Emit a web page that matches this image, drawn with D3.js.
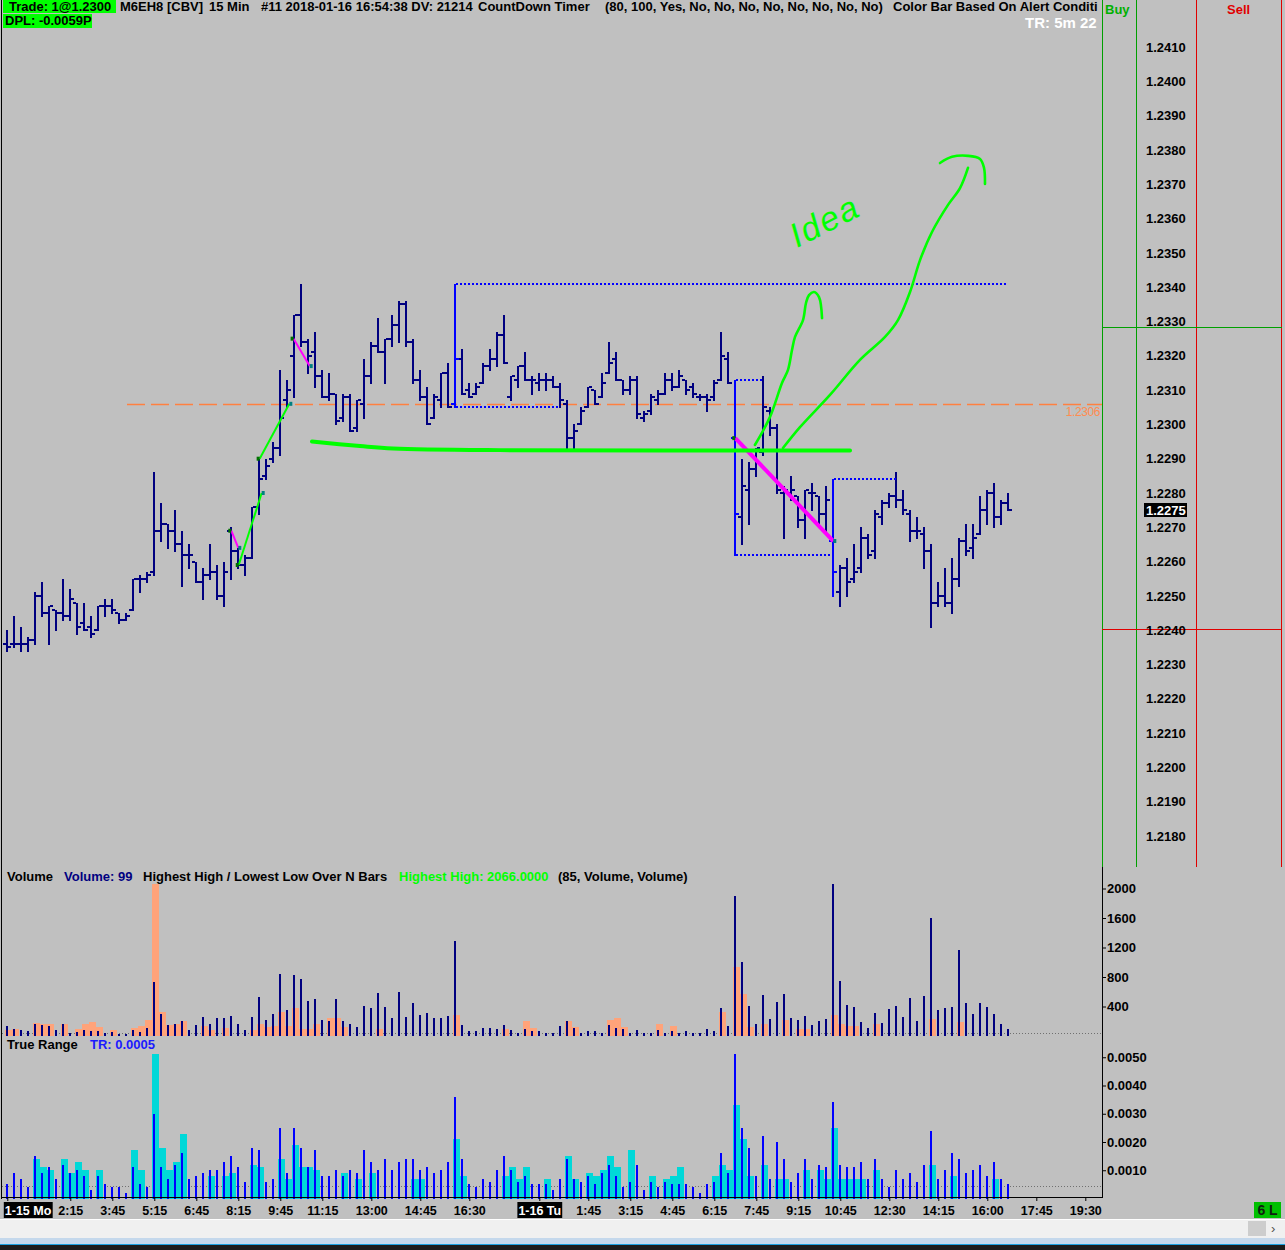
<!DOCTYPE html>
<html><head><meta charset="utf-8">
<script src="https://cdn.jsdelivr.net/npm/d3@7/dist/d3.min.js"></script>
<style>
html,body{margin:0;padding:0;background:#c0c0c0;overflow:hidden}
text{font-family:"Liberation Sans",Arial,sans-serif}
</style></head><body>
<svg id="chart" width="1285" height="1250"></svg>
<script>
// ---------------- DATA ----------------
const timeTickIndex = [0,9,15,21,27,33,39,45,52,59,66,76,83,89,95,101,107,113,119,126,133,140,147,154];
const timeTickLabels = ["1-15 Mo","2:15","3:45","5:15","6:45","8:15","9:45","11:15","13:00","14:45","16:30","1-16 Tu","1:45","3:15","4:45","6:15","7:45","9:15","10:45","12:30","14:15","16:00","17:45","19:30"];
const dateTicks = ["1-15 Mo","1-16 Tu"];

const open = [
1.2236,1.2236,1.2236,1.2236,1.2237,1.2250,1.2245,1.2246,1.2245,1.2244,
1.2248,1.2242,1.2241,1.2240,1.2247,1.2247,1.2245,1.2243,1.2246,1.2255,
1.2255,1.2257,1.2269,1.2271,1.2269,1.2265,1.2262,1.2260,1.2254,1.2256,
1.2257,1.2250,1.2269,1.2263,1.2259,1.2261,1.2276,1.2285,1.2290,1.2293,
1.2307,1.2320,1.2332,1.2324,1.2321,1.2314,1.2308,1.2309,1.2302,1.2308,
1.2299,1.2306,1.2314,1.2323,1.2321,1.2325,1.2329,1.2335,1.2324,1.2313,
1.2308,1.2302,1.2307,1.2315,1.2306,1.2319,1.2310,1.2309,1.2312,1.2317,
1.2319,1.2326,1.2308,1.2313,1.2317,1.2313,1.2312,1.2313,1.2313,1.2311,
1.2306,1.2296,1.2300,1.2305,1.2310,1.2308,1.2315,1.2319,1.2313,1.2310,
1.2313,1.2302,1.2304,1.2307,1.2309,1.2313,1.2311,1.2313,1.2311,1.2308,
1.2308,1.2308,1.2313,1.2319,1.2296,1.2273,1.2281,1.2287,1.2292,1.2304,
1.2299,1.2280,1.2280,1.2279,1.2272,1.2280,1.2279,1.2274,1.2266,1.2251,
1.2258,1.2255,1.2258,1.2267,1.2263,1.2273,1.2277,1.2279,1.2278,1.2274,
1.2269,1.2268,1.2263,1.2248,1.2250,1.2248,1.2255,1.2266,1.2264,1.2268,
1.2275,1.2280,1.2273,1.2277];
const high = [
1.2240,1.2244,1.2241,1.2238,1.2251,1.2254,1.2247,1.2246,1.2255,1.2252,
1.2248,1.2248,1.2244,1.2247,1.2249,1.2249,1.2245,1.2245,1.2255,1.2256,
1.2257,1.2286,1.2277,1.2271,1.2275,1.2269,1.2265,1.2260,1.2258,1.2265,
1.2259,1.2260,1.2270,1.2264,1.2262,1.2276,1.2290,1.2290,1.2295,1.2316,
1.2313,1.2332,1.2341,1.2325,1.2327,1.2316,1.2315,1.2309,1.2309,1.2309,
1.2307,1.2319,1.2324,1.2331,1.2325,1.2332,1.2336,1.2336,1.2325,1.2316,
1.2311,1.2309,1.2315,1.2318,1.2341,1.2322,1.2312,1.2312,1.2318,1.2322,
1.2327,1.2332,1.2314,1.2317,1.2321,1.2314,1.2315,1.2315,1.2314,1.2312,
1.2307,1.2300,1.2305,1.2311,1.2310,1.2315,1.2324,1.2321,1.2313,1.2314,
1.2314,1.2304,1.2309,1.2310,1.2315,1.2315,1.2316,1.2313,1.2312,1.2309,
1.2309,1.2313,1.2327,1.2321,1.2313,1.2290,1.2289,1.2293,1.2314,1.2305,
1.2300,1.2282,1.2285,1.2279,1.2281,1.2283,1.2279,1.2282,1.2284,1.2259,
1.2261,1.2265,1.2270,1.2268,1.2275,1.2278,1.2280,1.2286,1.2281,1.2275,
1.2273,1.2270,1.2265,1.2254,1.2258,1.2261,1.2267,1.2271,1.2271,1.2279,
1.2281,1.2283,1.2278,1.2280];
const low = [
1.2234,1.2235,1.2234,1.2234,1.2236,1.2244,1.2236,1.2240,1.2243,1.2243,
1.2239,1.2240,1.2238,1.2240,1.2244,1.2245,1.2242,1.2243,1.2246,1.2251,
1.2254,1.2256,1.2266,1.2264,1.2263,1.2253,1.2258,1.2254,1.2249,1.2255,
1.2249,1.2247,1.2255,1.2258,1.2256,1.2261,1.2274,1.2284,1.2289,1.2291,
1.2305,1.2308,1.2323,1.2315,1.2311,1.2308,1.2307,1.2300,1.2301,1.2298,
1.2298,1.2302,1.2312,1.2321,1.2312,1.2323,1.2324,1.2323,1.2312,1.2307,
1.2300,1.2302,1.2305,1.2305,1.2305,1.2309,1.2308,1.2309,1.2312,1.2316,
1.2317,1.2318,1.2307,1.2311,1.2313,1.2309,1.2310,1.2310,1.2311,1.2305,
1.2293,1.2293,1.2300,1.2305,1.2306,1.2308,1.2315,1.2313,1.2309,1.2309,
1.2302,1.2301,1.2303,1.2306,1.2309,1.2310,1.2311,1.2309,1.2308,1.2307,
1.2304,1.2307,1.2313,1.2312,1.2262,1.2265,1.2271,1.2285,1.2291,1.2297,
1.2280,1.2267,1.2278,1.2270,1.2267,1.2275,1.2271,1.2268,1.2250,1.2247,
1.2250,1.2254,1.2257,1.2261,1.2261,1.2271,1.2276,1.2276,1.2274,1.2266,
1.2267,1.2258,1.2241,1.2247,1.2247,1.2245,1.2253,1.2262,1.2261,1.2268,
1.2271,1.2270,1.2271,1.2275];
const close = [
1.2235,1.2236,1.2236,1.2237,1.2250,1.2245,1.2247,1.2245,1.2244,1.2249,
1.2241,1.2240,1.2239,1.2247,1.2247,1.2246,1.2243,1.2244,1.2255,1.2255,
1.2256,1.2269,1.2271,1.2269,1.2265,1.2262,1.2262,1.2254,1.2256,1.2257,
1.2250,1.2257,1.2263,1.2259,1.2261,1.2276,1.2284,1.2288,1.2293,1.2302,
1.2310,1.2332,1.2324,1.2320,1.2314,1.2308,1.2309,1.2301,1.2308,1.2298,
1.2307,1.2314,1.2323,1.2321,1.2325,1.2329,1.2335,1.2324,1.2313,1.2308,
1.2300,1.2308,1.2315,1.2305,1.2319,1.2309,1.2308,1.2311,1.2317,1.2319,
1.2326,1.2318,1.2314,1.2317,1.2313,1.2313,1.2313,1.2313,1.2311,1.2307,
1.2296,1.2298,1.2304,1.2311,1.2306,1.2312,1.2318,1.2313,1.2310,1.2313,
1.2303,1.2303,1.2308,1.2309,1.2313,1.2311,1.2314,1.2310,1.2309,1.2308,
1.2307,1.2312,1.2320,1.2312,1.2274,1.2282,1.2287,1.2293,1.2305,1.2299,
1.2281,1.2281,1.2281,1.2272,1.2281,1.2280,1.2274,1.2278,1.2257,1.2258,
1.2254,1.2257,1.2267,1.2262,1.2274,1.2277,1.2279,1.2278,1.2275,1.2269,
1.2269,1.2263,1.2248,1.2250,1.2248,1.2255,1.2266,1.2263,1.2267,1.2275,
1.2280,1.2273,1.2277,1.2275];
const alertBars = [64,104,118];

const volume = [
131,99,77,63,158,145,136,77,167,45,
54,77,68,68,41,54,32,23,77,59,
113,728,294,145,158,199,77,145,253,167,
240,240,267,158,77,253,529,212,294,836,
348,823,773,470,502,212,199,502,199,158,
122,402,375,579,393,240,592,253,443,280,
307,240,240,267,1284,145,63,63,104,104,
90,145,77,45,90,63,63,45,36,131,
199,113,36,63,63,45,145,113,90,36,
77,45,36,77,36,63,45,63,45,45,
90,63,375,131,1898,1003,407,158,551,226,
461,574,240,212,267,145,199,226,2066,741,
416,389,185,104,307,172,362,402,253,511,
199,538,1596,348,380,389,1162,443,294,443,
389,294,158,99];
const volumeHL = [
86,99,0,0,170,167,167,0,167,0,
99,167,186,122,0,86,0,0,113,140,
221,2060,321,145,167,199,0,0,131,77,
0,113,0,0,0,77,167,122,131,325,
136,375,99,99,158,0,249,249,122,0,
0,0,0,99,0,0,0,0,0,0,
0,0,0,0,280,0,0,0,0,0,
0,99,0,0,199,113,0,0,0,0,
199,122,0,0,0,0,212,249,122,0,
0,0,0,167,0,131,0,0,0,0,
0,0,325,0,936,574,122,0,167,0,
0,221,0,99,99,0,0,0,280,167,
131,131,0,0,167,0,0,0,0,0,
0,0,226,0,0,0,190,0,0,0,
0,0,0,0];

const trueRange = [
.0005,.0009,.0007,.0004,.0015,.0009,.0011,.0007,.0012,.0009,
.0010,.0008,.0003,.0008,.0005,.0004,.0004,.0002,.0011,.0005,
.0004,.0030,.0011,.0007,.0012,.0016,.0007,.0008,.0009,.0010,
.0010,.0013,.0015,.0011,.0006,.0018,.0017,.0006,.0007,.0025,
.0009,.0025,.0018,.0011,.0017,.0008,.0008,.0010,.0008,.0010,
.0009,.0017,.0013,.0010,.0014,.0010,.0013,.0014,.0014,.0010,
.0011,.0009,.0010,.0013,.0036,.0014,.0005,.0004,.0007,.0006,
.0010,.0015,.0010,.0006,.0008,.0005,.0005,.0005,.0003,.0007,
.0014,.0007,.0006,.0008,.0005,.0009,.0012,.0008,.0004,.0006,
.0012,.0003,.0006,.0004,.0006,.0005,.0005,.0005,.0004,.0002,
.0005,.0006,.0016,.0009,.0051,.0025,.0018,.0008,.0022,.0007,
.0020,.0014,.0006,.0009,.0014,.0007,.0012,.0011,.0034,.0012,
.0011,.0011,.0013,.0007,.0014,.0007,.0004,.0010,.0007,.0009,
.0006,.0012,.0024,.0007,.0010,.0016,.0014,.0009,.0010,.0012,
.0008,.0013,.0007,.0005];
const trueRangeHL = [
0,0,0,0,.0014,.0011,.0010,0,.0014,.0009,
.0013,.0010,0,.0010,0,0,0,0,.0017,.0010,
0,.0051,.0018,.0010,.0013,.0023,0,0,0,.0008,
0,.0008,.0009,0,0,.0012,.0011,0,0,.0014,
.0007,.0019,.0011,.0011,.0010,0,0,0,.0009,0,
.0007,0,.0009,0,0,0,0,0,.0007,.0007,
0,0,0,0,.0021,.0008,0,0,0,0,
0,.0008,.0011,.0007,.0011,0,0,.0007,0,0,
.0015,.0007,0,.0009,.0008,.0010,.0015,.0011,0,.0017,
0,0,.0008,0,.0007,.0008,.0011,0,0,0,
0,.0008,.0012,.0010,.0033,.0021,.0008,0,.0012,0,
.0007,.0007,0,0,.0010,0,.0010,.0007,.0025,.0007,
.0007,.0007,.0007,0,.0010,0,0,0,0,0,
0,0,.0012,0,0,.0008,0,0,0,0,
0,.0007,0,0];

const priceTicks = [1.2180,1.2190,1.2200,1.2210,1.2220,1.2230,1.2240,1.2250,1.2260,1.2270,1.2280,1.2290,1.2300,1.2310,1.2320,1.2330,1.2340,1.2350,1.2360,1.2370,1.2380,1.2390,1.2400,1.2410];
const volumeTicks = [400,800,1200,1600,2000];
const trTicks = [0.0010,0.0020,0.0030,0.0040,0.0050];
const refPrice = 1.2306, buyLevel = 1.2328, sellLevel = 1.2240;
const volAvg = 40, trAvg = 0.00045;

// hand drawn annotations: [barIndex, price]
const supportLine = [[43.53,1.22950],[50.39,1.22937],[55.1,1.22930],[70.39,1.22925],[120.39,1.22924]];
const ideaShort = [[106.8,1.22940],[108.96,1.23022],[110.67,1.23121],[111.53,1.23159],[112.1,1.23217],[112.53,1.23255],[113.67,1.23304],[114.1,1.23354],[114.53,1.23377],[115.24,1.23386],[115.96,1.23371],[116.39,1.23310]];
const ideaLong = [[110.81,1.22931],[113.24,1.22992],[117.53,1.23086],[121.81,1.23188],[125.39,1.23255],[127.24,1.23304],[128.96,1.23386],[130.39,1.23479],[132.1,1.23561],[134.39,1.23640],[136.1,1.23689],[137.24,1.23748]];
const ideaHead = [[133.24,1.23762],[134.96,1.23780],[137.24,1.23783],[138.96,1.23774],[139.53,1.23748],[139.67,1.23701]];
const ideaText = {i:112.8, p:1.23514, text:"Idea"};
const pivotLines = [
 {pts:[[32,1.2269],[33,1.2264]], color:"#ff00ff", w:2},
 {pts:[[40.9,1.2325],[43.2,1.2317]], color:"#ff00ff", w:2},
 {pts:[[104,1.2296],[118,1.2266]], color:"#ff00ff", w:4},
 {pts:[[33.06,1.2259],[36.34,1.2280]], color:"#00ff00", w:2},
 {pts:[[36.05,1.2290],[40.29,1.2306]], color:"#00ff00", w:2}
];
const rangeLines = [
 {from:64,to:143,p:high[64]},{from:64,to:79,p:low[64]},
 {from:104,to:108,p:high[104]},{from:104,to:118,p:low[104]},
 {from:118,to:127,p:high[118]}
];

// ---------------- CHART ----------------
const svg = d3.select('#chart');
const FONT = '"Liberation Sans",Arial,sans-serif';
svg.append('rect').attr('width',1285).attr('height',1250).attr('fill','#c0c0c0');

const x = d3.scaleLinear().domain([0,154]).range([7.3,1085.3]);
const y = d3.scaleLinear().domain([1.2180,1.2410]).range([836,47.1]);
const yv = d3.scaleLinear().domain([0,2000]).range([1036,888.5]);
const yt = d3.scaleLinear().domain([0,0.005]).range([1198.5,1057.25]);
const bx = i => Math.round(x(i));
const R = v => Math.round(v);

const defs = svg.append('defs');
defs.append('clipPath').attr('id','cp').append('rect').attr('x',2).attr('y',0).attr('width',1100).attr('height',867);
defs.append('clipPath').attr('id','ch').append('rect').attr('x',0).attr('y',0).attr('width',1100).attr('height',40);

const idx = d3.range(open.length);

// ---- price panel
const pg = svg.append('g').attr('clip-path','url(#cp)');
pg.append('line').attr('x1',x(17.1)).attr('x2',1102).attr('y1',R(y(refPrice))+0.5).attr('y2',R(y(refPrice))+0.5)
  .attr('stroke','#ff8040').attr('stroke-width',1.5).attr('stroke-dasharray','18,6');

const bars = idx.map(i=>({i,o:open[i],h:high[i],l:low[i],c:close[i],col:alertBars.includes(i)?'#0000ff':'#000080'}));
pg.selectAll('rect.stem').data(bars).join('rect').attr('class','stem')
  .attr('x',d=>bx(d.i)-1).attr('y',d=>R(y(d.h))).attr('width',2)
  .attr('height',d=>Math.max(2,R(y(d.l))-R(y(d.h))+1)).attr('fill',d=>d.col);
pg.selectAll('rect.op').data(bars).join('rect').attr('class','op')
  .attr('x',d=>bx(d.i)-4).attr('y',d=>R(y(d.o))-1).attr('width',3).attr('height',2).attr('fill',d=>d.col);
pg.selectAll('rect.cl').data(bars).join('rect').attr('class','cl')
  .attr('x',d=>bx(d.i)+1).attr('y',d=>R(y(d.c))-1).attr('width',3).attr('height',2).attr('fill',d=>d.col);

// range break dotted lines
pg.selectAll('line.rng').data(rangeLines).join('line').attr('class','rng')
  .attr('x1',d=>bx(d.from)+1).attr('x2',d=>bx(d.to)).attr('y1',d=>R(y(d.p))).attr('y2',d=>R(y(d.p)))
  .attr('stroke','#0000ff').attr('stroke-width',2).attr('stroke-dasharray','2,2');

// pivot lines
const ln = d3.line().x(d=>x(d[0])).y(d=>y(d[1]));
pg.selectAll('path.piv').data(pivotLines).join('path').attr('class','piv')
  .attr('d',d=>ln(d.pts)).attr('stroke',d=>d.color).attr('stroke-width',d=>d.w).attr('fill','none');
pivotLines.forEach(d=>{
  pg.append('rect').attr('x',x(d.pts[0][0])-3).attr('y',y(d.pts[0][1])-2).attr('width',3).attr('height',4).attr('fill','#007000');
  pg.append('rect').attr('x',x(d.pts[1][0])).attr('y',y(d.pts[1][1])-2).attr('width',3).attr('height',4).attr('fill','#008080');
});

// hand-drawn green
const cr = d3.line().x(d=>x(d[0])).y(d=>y(d[1])).curve(d3.curveCatmullRom);
pg.append('path').attr('d',cr(supportLine)).attr('stroke','#00ff00').attr('stroke-width',4).attr('fill','none').attr('stroke-linecap','round');
[ideaShort,ideaLong,ideaHead].forEach(a=>{
  pg.append('path').attr('d',cr(a)).attr('stroke','#00ff00').attr('stroke-width',2.6).attr('fill','none').attr('stroke-linecap','round');
});
pg.append('text').attr('transform',`translate(${x(ideaText.i)},${y(ideaText.p)}) rotate(-27)`)
  .attr('font-family','"DejaVu Sans",sans-serif').attr('font-style','italic').attr('font-size',34)
  .attr('fill','#00ff00').attr('letter-spacing',2).text(ideaText.text);

// reference price label
svg.append('text').attr('x',1100).attr('y',R(y(refPrice))+12).attr('text-anchor','end')
  .attr('font-size',12).attr('letter-spacing',-0.4).attr('fill','#ff8c50').text(d3.format('.4f')(refPrice));

// ---- right side lines
svg.append('line').attr('x1',1102.5).attr('x2',1102.5).attr('y1',0).attr('y2',867).attr('stroke','#00a000');
svg.append('line').attr('x1',1136.5).attr('x2',1136.5).attr('y1',0).attr('y2',867).attr('stroke','#00a000');
svg.append('line').attr('x1',1196.5).attr('x2',1196.5).attr('y1',0).attr('y2',867).attr('stroke','#e00000');
svg.append('line').attr('x1',1281.5).attr('x2',1281.5).attr('y1',0).attr('y2',867).attr('stroke','#e00000');
svg.append('line').attr('x1',1102).attr('x2',1282).attr('y1',R(y(buyLevel))-0.5).attr('y2',R(y(buyLevel))-0.5).attr('stroke','#00a000');
svg.append('line').attr('x1',1102).attr('x2',1282).attr('y1',R(y(sellLevel))-0.5).attr('y2',R(y(sellLevel))-0.5).attr('stroke','#e00000');
svg.append('text').attr('x',1105).attr('y',14).attr('font-size',13).attr('font-weight','bold').attr('fill','#00b000').text('Buy');
svg.append('text').attr('x',1227).attr('y',14).attr('font-size',13).attr('font-weight','bold').attr('fill','#e00000').text('Sell');

// price axis
const pa = svg.append('g').attr('transform','translate(1146,0)')
  .call(d3.axisRight(y).tickValues(priceTicks).tickSize(0).tickPadding(0).tickFormat(d3.format('.4f')));
pa.select('.domain').remove();
pa.attr('font-family',FONT).attr('font-size',13).attr('font-weight','bold');
pa.selectAll('text').attr('fill','#000');
// last price tag
const lp = close[close.length-1];
svg.append('rect').attr('x',1144).attr('y',R(y(lp))-7).attr('width',43).attr('height',14).attr('fill','#000');
svg.append('text').attr('x',1146).attr('y',R(y(lp))+5).attr('font-size',13).attr('font-weight','bold').attr('fill','#fff').text(d3.format('.4f')(lp));

// ---- volume panel
const vg = svg.append('g');
vg.append('line').attr('x1',2).attr('x2',1102).attr('y1',R(yv(volAvg))+0.5).attr('y2',R(yv(volAvg))+0.5)
  .attr('stroke','#707070').attr('stroke-dasharray','1,2');
vg.selectAll('rect.vh').data(idx.filter(i=>volumeHL[i]>0)).join('rect').attr('class','vh')
  .attr('x',i=>bx(i)-2).attr('width',7).attr('y',i=>R(yv(volumeHL[i]))).attr('height',i=>R(yv(0))-R(yv(volumeHL[i])))
  .attr('fill','#ffa37a');
vg.selectAll('rect.v').data(idx).join('rect').attr('class','v')
  .attr('x',i=>bx(i)-1).attr('width',2).attr('y',i=>R(yv(volume[i]))).attr('height',i=>R(yv(0))-R(yv(volume[i])))
  .attr('fill','#000080');
const va = svg.append('g').attr('transform','translate(1102,0)')
  .call(d3.axisRight(yv).tickValues(volumeTicks).tickSize(4).tickPadding(1).tickFormat(d3.format('d')));
va.select('.domain').remove();
va.attr('font-family',FONT).attr('font-size',13).attr('font-weight','bold');

// ---- true range panel
const tg = svg.append('g');
tg.append('line').attr('x1',2).attr('x2',1102).attr('y1',R(yt(trAvg))+0.5).attr('y2',R(yt(trAvg))+0.5)
  .attr('stroke','#707070').attr('stroke-dasharray','1,2');
tg.selectAll('rect.th').data(idx.filter(i=>trueRangeHL[i]>0)).join('rect').attr('class','th')
  .attr('x',i=>bx(i)-2).attr('width',7).attr('y',i=>R(yt(trueRangeHL[i]))).attr('height',i=>R(yt(0))-R(yt(trueRangeHL[i])))
  .attr('fill','#00d8d8');
tg.selectAll('rect.t').data(idx).join('rect').attr('class','t')
  .attr('x',i=>bx(i)-1).attr('width',2).attr('y',i=>R(yt(trueRange[i]))).attr('height',i=>R(yt(0))-R(yt(trueRange[i])))
  .attr('fill','#0000ff');
const ta = svg.append('g').attr('transform','translate(1102,0)')
  .call(d3.axisRight(yt).tickValues(trTicks).tickSize(4).tickPadding(1).tickFormat(d3.format('.4f')));
ta.select('.domain').remove();
ta.attr('font-family',FONT).attr('font-size',13).attr('font-weight','bold');

// frames
svg.append('line').attr('x1',1.5).attr('x2',1.5).attr('y1',0).attr('y2',1199).attr('stroke','#000');
svg.append('line').attr('x1',1102.5).attr('x2',1102.5).attr('y1',867).attr('y2',1198).attr('stroke','#000');
svg.append('line').attr('x1',1).attr('x2',1103).attr('y1',1197.5).attr('y2',1197.5).attr('stroke','#000');

// ---- time axis
const xa = svg.append('g').attr('transform','translate(0,1198)')
  .call(d3.axisBottom(x).tickValues(timeTickIndex).tickSize(3).tickPadding(5).tickFormat((d,k)=>timeTickLabels[k]));
xa.select('.domain').remove();
xa.attr('font-family',FONT).attr('font-size',12.5).attr('font-weight','bold');
xa.selectAll('.tick').each(function(d,k){
  const lbl = timeTickLabels[k];
  if(!dateTicks.includes(lbl)) return;
  const g = d3.select(this), t = g.select('text');
  if(k===0){ t.attr('text-anchor','start').attr('x',-3); }
  t.attr('fill','#fff');
  const b = t.node().getBBox();
  g.insert('rect','text').attr('x',b.x-1).attr('y',4).attr('width',b.width+2).attr('height',16).attr('fill','#000');
});

// ---- headers
const hdr = svg.append('g').attr('clip-path','url(#ch)').attr('font-size',13).attr('font-weight','bold');
hdr.append('rect').attr('x',3).attr('y',0).attr('width',113).attr('height',13).attr('fill','#00ff00');
hdr.append('rect').attr('x',3).attr('y',14).attr('width',89).attr('height',14).attr('fill','#00ff00');
hdr.append('text').attr('x',9).attr('y',11).text('Trade: 1@1.2300');
hdr.append('text').attr('x',5).attr('y',25).text('DPL: -0.0059P');
hdr.append('text').attr('x',120).attr('y',11).text('M6EH8 [CBV]');
hdr.append('text').attr('x',209).attr('y',11).text('15 Min');
hdr.append('text').attr('x',261).attr('y',11).text('#11 2018-01-16 16:54:38 DV: 21214');
hdr.append('text').attr('x',478).attr('y',11).text('CountDown Timer');
hdr.append('text').attr('x',605).attr('y',11).text('(80, 100, Yes, No, No, No, No, No, No, No, No)');
hdr.append('text').attr('x',893).attr('y',11).text('Color Bar Based On Alert Conditi');
hdr.append('text').attr('x',1025).attr('y',28).attr('font-size',15).attr('fill','#fff').text('TR: 5m 22');

const vh = svg.append('g').attr('font-size',13).attr('font-weight','bold');
vh.append('text').attr('x',7).attr('y',881).text('Volume');
vh.append('text').attr('x',64).attr('y',881).attr('fill','#000080').text('Volume: 99');
vh.append('text').attr('x',143).attr('y',881).text('Highest High / Lowest Low Over N Bars');
vh.append('text').attr('x',399).attr('y',881).attr('fill','#00ff00').text('Highest High: 2066.0000');
vh.append('text').attr('x',558).attr('y',881).text('(85, Volume, Volume)');
vh.append('text').attr('x',7).attr('y',1049).text('True Range');
vh.append('text').attr('x',90).attr('y',1049).attr('fill','#1a1aff').text('TR: 0.0005');

// status box
svg.append('rect').attr('x',1254).attr('y',1202).attr('width',27).attr('height',16).attr('fill','#00c000');
svg.append('text').attr('x',1267.5).attr('y',1215).attr('text-anchor','middle').attr('font-size',14).attr('font-weight','bold').attr('fill','#102010').text('6 L');

// scrollbar / window bottom
svg.append('rect').attr('x',0).attr('y',1219).attr('width',1285).attr('height',19).attr('fill','#f0f0f0');
svg.append('line').attr('x1',0).attr('x2',1285).attr('y1',1219.5).attr('y2',1219.5).attr('stroke','#ffffff');
svg.append('rect').attr('x',1248).attr('y',1221).attr('width',18).attr('height',15).attr('fill','#cdcdcd');
svg.append('text').attr('x',1271).attr('y',1233).attr('font-size',13).attr('fill','#505050').text('›');
svg.append('rect').attr('x',0).attr('y',1238).attr('width',1285).attr('height',6).attr('fill','#c4d8ec');
svg.append('rect').attr('x',0).attr('y',1244).attr('width',1285).attr('height',1).attr('fill','#1aa0e0');
svg.append('rect').attr('x',0).attr('y',1245).attr('width',1285).attr('height',5).attr('fill','#1c1c1c');
</script></body></html>
